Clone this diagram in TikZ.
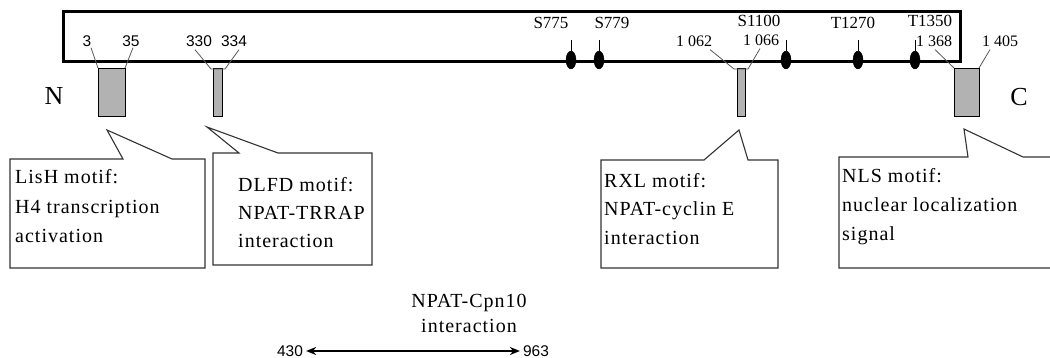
\documentclass[tikz,border=0pt]{standalone}
\usepackage{fontspec}
\setmainfont{Liberation Serif}
\newfontfamily\sansnum{Liberation Sans}
\newfontfamily\calfont[LetterSpace=5]{Liberation Serif}
\usetikzlibrary{shapes.geometric,arrows.meta}
\tikzset{
  bar/.style={draw=black, line width=3pt, inner sep=0pt, outer sep=0pt},
  motifbox/.style={draw=black, line width=0.8pt, fill=black!30, inner sep=0pt, outer sep=0pt},
  leader/.style={draw=black!65, line width=0.8pt},
  phos/.style={ellipse, fill=black, draw=black, inner sep=0pt, minimum width=10pt, minimum height=18pt},
  ticks/.style={draw=black, line width=0.8pt},
  callout/.style={draw=black!80, line width=1.1pt, fill=white},
  caltext/.style={anchor=base west, inner sep=0pt, font=\calfont\fontsize{20}{24}\selectfont},
  midtext/.style={anchor=base, inner sep=0pt, font=\calfont\fontsize{20}{24}\selectfont},
  sitelbl/.style={inner sep=0pt, font=\fontsize{17}{20}\selectfont},
  serifnum/.style={inner sep=0pt, font=\fontsize{16}{19}\selectfont},
  sansnumlbl/.style={inner sep=0pt, font=\sansnum\fontsize{15.5}{18}\selectfont},
  endlbl/.style={inner sep=0pt, font=\fontsize{26}{30}\selectfont},
  span/.style={draw=black, line width=2pt, {Stealth[length=10pt,width=8pt]}-{Stealth[length=10pt,width=8pt]}}
}
\begin{document}
\begin{tikzpicture}[x=1pt,y=-1pt]
\clip (0,0) rectangle (1050,358);
\fill[white] (0,0) rectangle (1050,358);

% callouts (drawn first)
\draw[callout] (10,159) -- (123,159) -- (107,130) -- (172,159) -- (205,159) -- (205,268) -- (10,268) -- cycle;
\draw[callout] (213,153) -- (239,153) -- (207,127) -- (278,153) -- (372,153) -- (372,265) -- (213,265) -- cycle;
\draw[callout] (601,160) -- (704,160) -- (739,130) -- (748,160) -- (778,160) -- (778,268) -- (601,268) -- cycle;
\draw[callout] (1070,157) -- (1023,157) -- (964,129) -- (968,157) -- (839,157) -- (839,268) -- (1070,268);

% main bar
\node[bar, minimum width=897pt, minimum height=50pt] (bar) at (511.5,37) {};

% motif boxes
\node[motifbox, minimum width=27pt, minimum height=48pt] (lish) at (111.5,92) {};
\node[motifbox, minimum width=9pt, minimum height=48pt] (dlfd) at (217.5,92) {};
\node[motifbox, minimum width=8pt, minimum height=48pt] (rxl) at (741,92) {};
\node[motifbox, minimum width=25pt, minimum height=48pt] (nls) at (966.5,92) {};

% N and C
\node[endlbl] (nterm) at (54,96) {N};
\node[endlbl] (cterm) at (1019,97) {C};

% position labels
\node[sansnumlbl] (l3) at (87,41) {3};
\node[sansnumlbl] (l35) at (131,41) {35};
\node[sansnumlbl] (l330) at (199,41) {330};
\node[sansnumlbl] (l334) at (234,41) {334};
\node[serifnum] (l1062) at (694,41) {1 062};
\node[serifnum] (l1066) at (761,40) {1 066};
\node[serifnum] (l1368) at (934,41) {1 368};
\node[serifnum] (l1405) at (1000,41) {1 405};

% leader lines
\draw[leader] ([xshift=4pt,yshift=-1pt]l3.south) -- (lish.north west);
\draw[leader] ([xshift=2pt,yshift=-1pt]l35.south) -- (lish.north east);
\coordinate (dl) at ([xshift=-2pt,yshift=-1pt]dlfd.north west);
\coordinate (dr) at ([xshift=3pt,yshift=-1pt]dlfd.north east);
\draw[leader] ([xshift=-4pt,yshift=-3pt]l330.south) -- (dl) -- (dr) -- ([xshift=5pt,yshift=-3pt]l334.south);
\coordinate (rl) at ([xshift=-3pt,yshift=-1pt]rxl.north west);
\coordinate (rr) at ([xshift=3pt,yshift=-1pt]rxl.north east);
\draw[leader] ([xshift=16pt,yshift=-3pt]l1062.south) -- (rl) -- (rr) -- ([xshift=-1pt,yshift=-3pt]l1066.south);
\draw[leader] ([xshift=1pt,yshift=-3pt]l1368.south) -- (nls.north west);
\draw[leader] ([xshift=-10pt,yshift=-3pt]l1405.south) -- (nls.north east);

% phosphorylation sites
\node[phos] (p775) at (571,60) {};
\node[phos] (p779) at (599,60) {};
\node[phos] (p1100) at (786,60) {};
\node[phos] (p1270) at (858,60) {};
\node[phos] (p1350) at (915,60) {};
\foreach \p in {p775,p779,p1100,p1270,p1350}{
  \draw[ticks] (\p.north) -- ++(0,-11);
}
\node[sitelbl] (s775) at (551,23) {S775};
\node[sitelbl] (s779) at (612,23) {S779};
\node[sitelbl] (s1100) at (759,21) {S1100};
\node[sitelbl] (t1270) at (853,23) {T1270};
\node[sitelbl] (t1350) at (930,21) {T1350};

% callout texts
\node[caltext] (lisA) at (15,184) {LisH motif:};
\node[caltext] (lisB) at (15,214) {H4 transcription};
\node[caltext] (lisC) at (15,243) {activation};
\node[caltext] (dlA) at (238,192) {DLFD motif:};
\node[caltext] (dlB) at (238,220) {NPAT-TRRAP};
\node[caltext] (dlC) at (238,248) {interaction};
\node[caltext] (rxA) at (604,188) {RXL motif:};
\node[caltext] (rxB) at (604,216) {NPAT-cyclin E};
\node[caltext] (rxC) at (604,245) {interaction};
\node[caltext] (nlA) at (842,183) {NLS motif:};
\node[caltext] (nlB) at (842,212) {nuclear localization};
\node[caltext] (nlC) at (842,241) {signal};

% bottom interaction span
\node[midtext] (cpA) at (469,307) {NPAT-Cpn10};
\node[midtext] (cpB) at (469,332) {interaction};
\node[sansnumlbl] (n430) at (290,351) {430};
\node[sansnumlbl] (n963) at (536,351) {963};
\draw[span] ([xshift=3pt]n430.east) -- ([xshift=-3pt]n963.west);
\end{tikzpicture}
\end{document}
